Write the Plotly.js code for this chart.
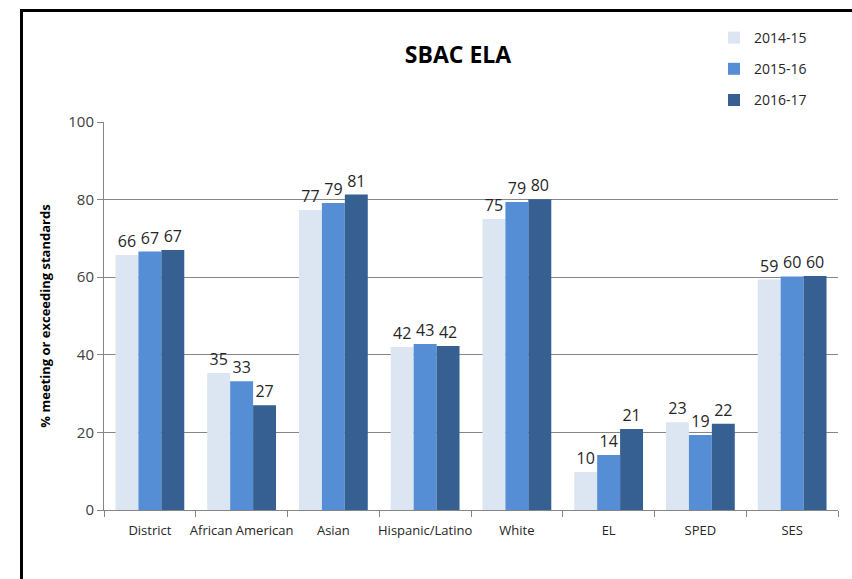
<!DOCTYPE html>
<html>
<head>
<meta charset="utf-8">
<script src="https://cdn.plot.ly/plotly-3.0.1.min.js"></script>
<style>
  html, body { margin: 0; padding: 0; background: #fff; }
  #wrap { position: relative; width: 852px; height: 579px; overflow: hidden; }
  #chart { width: 852px; height: 579px; }
  #frame { position: absolute; left: 20px; top: 9px; width: 840px; height: 580px;
           border-left: 3px solid #000; border-top: 3px solid #000; pointer-events: none; }
</style>
</head>
<body>
<div id="wrap">
  <div id="chart"></div>
  <div id="frame"></div>
</div>
<script>
const categories = ["District", "African American", "Asian", "Hispanic/Latino", "White", "EL", "SPED", "SES"];
const seriesNames = ["2014-15", "2015-16", "2016-17"];
const values2014 = [65.7, 35.3, 77.3, 42.0, 75.0, 9.8, 22.6, 59.4];
const values2015 = [66.6, 33.2, 79.1, 42.8, 79.4, 14.2, 19.3, 60.2];
const values2016 = [67.0, 27.0, 81.3, 42.3, 80.1, 20.9, 22.2, 60.3];
const colors = ["#DCE6F2", "#558ED5", "#376092"];

const allValues = [values2014, values2015, values2016];
const traces = allValues.map((vals, i) => ({
  type: "bar",
  name: seriesNames[i],
  x: categories,
  y: vals,
  legendgroup: "g" + i,
  marker: { color: colors[i], line: { width: 0 } },
  text: vals.map(v => String(Math.round(v))),
  textposition: "outside",
  cliponaxis: false,
  textfont: { family: "Open Sans, Noto Sans, sans-serif", size: 16, color: "#262626" },
  hoverinfo: "x+y+name"
}));

const layout = {
  width: 852, height: 579,
  margin: { l: 104, r: 14, t: 122, b: 69, autoexpand: false },
  paper_bgcolor: "#fff", plot_bgcolor: "#fff",
  barmode: "group",
  bargap: 0.25, bargroupgap: 0,
  font: { family: "Open Sans, Noto Sans, sans-serif", color: "#404040" },
  title: {
    text: "<b>SBAC ELA</b>",
    font: { family: "Open Sans, Noto Sans, sans-serif", size: 23, color: "#000" },
    x: 458 / 852, xref: "container", xanchor: "center",
    y: 1 - 55 / 579, yref: "container", yanchor: "middle"
  },
  showlegend: true,
  legend: {
    x: 714 / 852, y: 1 - 22 / 579, xref: "container", yref: "container",
    xanchor: "left", yanchor: "top",
    traceorder: "grouped", tracegroupgap: 10,
    font: { family: "Open Sans, Noto Sans, sans-serif", size: 14, color: "#262626" },
    itemwidth: 30, bgcolor: "rgba(0,0,0,0)"
  },
  xaxis: {
    type: "category",
    automargin: false,
    tickangle: 0,
    ticklabelstandoff: 8,
    tickfont: { family: "Open Sans, Noto Sans, sans-serif", size: 13, color: "#262626" },
    ticks: "outside", tickson: "boundaries", ticklen: 6, tickcolor: "#868686",
    showline: true, linecolor: "#868686", linewidth: 1,
    showgrid: false, zeroline: false
  },
  yaxis: {
    range: [0, 100], dtick: 20, tick0: 0,
    automargin: false,
    tickfont: { family: "Open Sans, Noto Sans, sans-serif", size: 15, color: "#404040" },
    ticks: "outside", ticklen: 6, tickcolor: "#868686",
    showline: true, linecolor: "#868686", linewidth: 1,
    showgrid: true, gridcolor: "#868686", gridwidth: 1,
    zeroline: true, zerolinecolor: "#868686",
    title: {
      text: "<b>% meeting or exceeding standards</b>",
      font: { family: "Open Sans, Noto Sans, sans-serif", size: 13, color: "#000" },
      standoff: 14
    }
  }
};

Plotly.newPlot("chart", traces, layout, { displayModeBar: false, staticPlot: true });
</script>
</body>
</html>
